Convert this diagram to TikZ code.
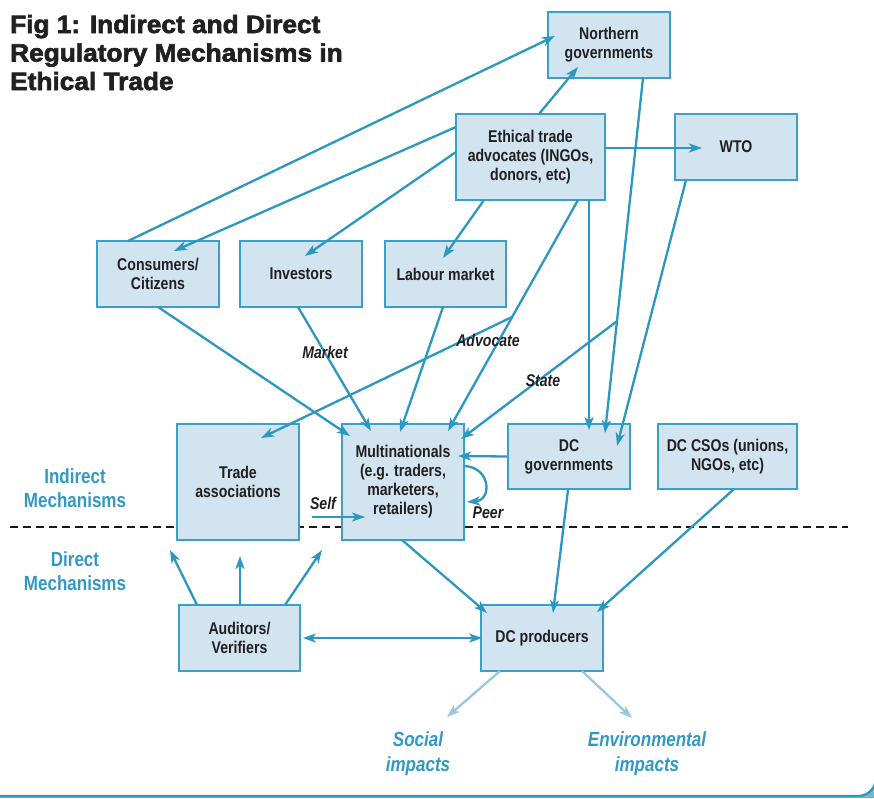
\documentclass[tikz,border=0pt]{standalone}
\usepackage{fontspec}
\setmainfont{Liberation Sans}
\newfontfamily\condfont[FakeStretch=0.83]{Liberation Sans}
\newfontfamily\titlefont[FakeStretch=1.05,FakeBold=2.5]{Liberation Sans}
\usetikzlibrary{arrows.meta,calc}
\definecolor{lineblue}{RGB}{44,152,192}
\definecolor{boxfill}{RGB}{209,228,240}
\definecolor{boxdraw}{RGB}{58,160,200}
\definecolor{txtblue}{RGB}{51,153,196}
\definecolor{lightarrow}{RGB}{150,200,222}
\definecolor{framefill}{RGB}{120,180,210}
\definecolor{txtblack}{RGB}{35,31,32}
\begin{document}
\begin{tikzpicture}[x=1pt,y=-1pt,
  box/.style={draw=boxdraw, fill=boxfill, line width=1.7pt, align=center, inner sep=0pt,
    font={\condfont\bfseries\fontsize{17}{19}\selectfont}, text=txtblack},
  conn/.style={draw=lineblue, line width=2.3pt, -{Stealth[length=13pt,width=9pt,inset=3.5pt]}},
  impact/.style={draw=lightarrow, line width=2.3pt, -{Stealth[length=13pt,width=9pt,inset=3.5pt]}},
  elabel/.style={font={\condfont\bfseries\itshape\fontsize{17}{19}\selectfont}, text=txtblack, inner sep=0pt},
  side/.style={font={\condfont\bfseries\fontsize{20.5}{24}\selectfont}, text=txtblue, align=center, inner sep=0pt},
  impactlabel/.style={font={\condfont\bfseries\itshape\fontsize{20.5}{25}\selectfont}, text=txtblue, align=center, inner sep=0pt},
  titleline/.style={font={\titlefont\bfseries\fontsize{25}{28}\selectfont}, text=txtblack, anchor=base west, inner sep=0pt}
]
\useasboundingbox (0,0) rectangle (874,798);
% frame: blue outside, white rounded panel
\fill[framefill] (0,0) rectangle (874,798);
\filldraw[fill=white, draw=lineblue, line width=2.2pt, rounded corners=18pt] (-20,-20) rectangle (876,796);

% title
\node[titleline] (t1) at (10,33) {Fig 1: Indirect and Direct};
\node[titleline] (t2) at (10,61.5) {Regulatory Mechanisms in};
\node[titleline] (t3) at (10,90) {Ethical Trade};

% dashed separator
\draw[black!90, line width=2pt, dash pattern=on 8pt off 5pt] (10,527) -- (848,527);

% boxes
\node[box, minimum width=122pt, minimum height=66pt] (ng) at (609,45) {Northern\\governments};
\node[box, minimum width=149pt, minimum height=86pt] (eta) at (530.5,157) {Ethical trade\\advocates (INGOs,\\donors, etc)};
\node[box, minimum width=122pt, minimum height=66pt] (wto) at (736,147) {WTO};
\node[box, minimum width=122pt, minimum height=66pt] (cons) at (158,274) {Consumers/\\Citizens};
\node[box, minimum width=122pt, minimum height=66pt] (inv) at (301,274) {Investors};
\node[box, minimum width=121pt, minimum height=66pt] (lab) at (445.5,274) {Labour market};
\node[box, minimum width=122pt, minimum height=116pt] (ta) at (238,482) {Trade\\associations};
\node[box, minimum width=122pt, minimum height=116pt] (mn) at (403,482) {Multinationals\\(e.g. traders,\\marketers,\\retailers)};
\node[box, minimum width=122pt, minimum height=65pt] (dcg) at (569,456.5) {DC\\governments};
\node[box, minimum width=139pt, minimum height=65pt] (cso) at (727.5,456.5) {DC CSOs (unions,\\NGOs, etc)};
\node[box, minimum width=121pt, minimum height=66pt] (aud) at (239.5,638) {Auditors/\\Verifiers};
\node[box, minimum width=122pt, minimum height=66pt] (dcp) at (542,638) {DC producers};

% side labels
\node[side] (indirect) at (75,488) {Indirect\\Mechanisms};
\node[side] (direct) at (75,571) {Direct\\Mechanisms};

% connectors from the top
\draw[conn] ([shift={(-30,-33)}]cons.center) -- ([shift={(-54,-9)}]ng.center);
\draw[conn] ([shift={(-74.5,-30)}]eta.center) -- ([shift={(16,-23)}]cons.center);
\draw[conn] ([shift={(-74.5,-5)}]eta.center) -- ([shift={(4,-18)}]inv.center);
\draw[conn] ([shift={(-46.5,43)}]eta.center) -- ([shift={(-2.5,-16)}]lab.center);
\draw[conn] ([shift={(8.5,-43)}]eta.center) -- ([shift={(-31,22)}]ng.center);
\draw[conn] ([shift={(74.5,-9)}]eta.center) -- ([shift={(-34,1)}]wto.center);
\draw[conn] ([shift={(47.5,43)}]eta.center) -- coordinate[pos=0.506] (advb) ([shift={(45,-51)}]mn.center);
\draw[conn] ([shift={(58.5,43)}]eta.center) -- ([shift={(20,-26.5)}]dcg.center);
\draw[conn] ([shift={(34,33)}]ng.center) -- coordinate[pos=0.685] (stateb) ([shift={(36,-23.5)}]dcg.center);
\draw[conn] ([shift={(-50,33)}]wto.center) -- ([shift={(48,-10.5)}]dcg.center);
% advocate and state branches
\draw[conn] (advb) -- ([shift={(23,-44)}]ta.center);
\draw[conn] (stateb) -- ([shift={(58,-43)}]mn.center);
% market
\draw[conn] ([shift={(0,33)}]cons.center) -- ([shift={(-53,-46)}]mn.center);
\draw[conn] ([shift={(-3,33)}]inv.center) -- ([shift={(-32,-51)}]mn.center);
\draw[conn] ([shift={(-2.5,33)}]lab.center) -- ([shift={(-3,-50)}]mn.center);
\draw[conn] (dcg.west) -- ([shift={(55,-26)}]mn.center);
% peer loop
\draw[conn] ([shift={(62,-16)}]mn.center) .. controls ([shift={(88,-14)}]mn.center) and ([shift={(89,18)}]mn.center) .. ([shift={(64,20)}]mn.center);
% self
\coordinate (selfstart) at (312,517);
\draw[conn] (selfstart) -- ([shift={(-38,35)}]mn.center);

% edge labels
\node[elabel] (lmarket) at (325,352) {Market};
\node[elabel] (ladvocate) at (488,340) {Advocate};
\node[elabel] (lstate) at (543,381) {State};
\node[elabel] (lself) at (323,503) {Self};
\node[elabel] (lpeer) at (488,513) {Peer};

% direct mechanisms
\coordinate (up1) at (170,550);
\coordinate (up2) at (240,556);
\coordinate (up3) at (322,550);
\draw[conn] ([shift={(-42.5,-33)}]aud.center) -- (up1);
\draw[conn] ([shift={(0.5,-33)}]aud.center) -- (up2);
\draw[conn] ([shift={(45.5,-33)}]aud.center) -- (up3);
\draw[draw=lineblue, line width=2.3pt, {Stealth[length=13pt,width=9pt,inset=3.5pt]}-{Stealth[length=13pt,width=9pt,inset=3.5pt]}] ([xshift=2pt]aud.east) -- ([xshift=2pt]dcp.west);
\draw[conn] ([shift={(-1,58)}]mn.center) -- ([shift={(-55,-25)}]dcp.center);
\draw[conn] ([shift={(-1,33.5)}]dcg.center) -- ([shift={(11,-25)}]dcp.center);
\draw[conn] ([shift={(6.5,32.5)}]cso.center) -- ([shift={(55,-26)}]dcp.center);

% impacts
\coordinate (socend) at (447,717);
\coordinate (envend) at (632,718);
\draw[impact] ([shift={(-42,33)}]dcp.center) -- (socend);
\draw[impact] ([shift={(40,33)}]dcp.center) -- (envend);
\node[impactlabel] (social) at (418,754) {Social\\impacts};
\node[impactlabel] (env) at (647,754) {Environmental\\impacts};
\end{tikzpicture}
\end{document}
